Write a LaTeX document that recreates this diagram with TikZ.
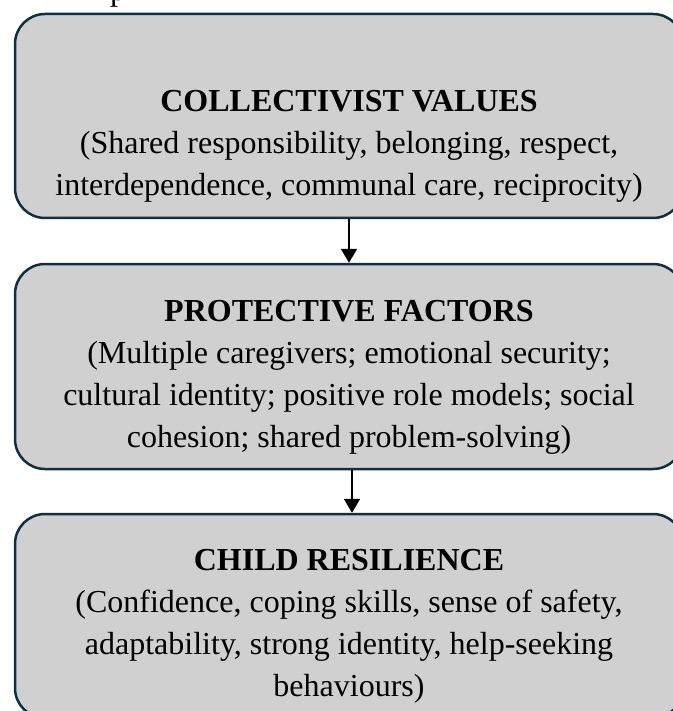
\documentclass[tikz,border=0pt]{standalone}
\usepackage{fontspec}
\setmainfont{Liberation Serif}
\usetikzlibrary{arrows.meta}
\definecolor{boxborder}{RGB}{14,48,68}
\definecolor{boxfill}{RGB}{208,208,208}
\tikzset{
  flowbox/.style={draw=boxborder, fill=boxfill, line width=2.5pt, rounded corners=30pt,
    minimum width=668pt, inner sep=0pt},
  txt/.style={anchor=base, inner sep=0pt, font=\fontsize{32}{40}\selectfont},
  ttl/.style={txt, font=\fontsize{32}{40}\selectfont\bfseries},
  flowarrow/.style={line width=2pt, -{Triangle[width=16pt,length=14pt]}}
}
\begin{document}
\begin{tikzpicture}[x=1pt,y=-1pt]
\useasboundingbox (0,0) rectangle (672,711);
\node[txt] (frag) at (118,1) {p};
\node[flowbox, minimum height=204pt] (b1) at (349,116) {};
\node[flowbox, minimum height=205pt] (b2) at (349,366.5) {};
\node[flowbox, minimum height=204pt] (b3) at (349,616) {};
\node[ttl] (t1) at (349,112) {COLLECTIVIST VALUES};
\node[txt] (t1a) at (349,154) {(Shared responsibility, belonging, respect,};
\node[txt] (t1b) at (349,196) {interdependence, communal care, reciprocity)};
\node[ttl] (t2) at (349,321) {PROTECTIVE FACTORS};
\node[txt] (t2a) at (349,363) {(Multiple caregivers; emotional security;};
\node[txt] (t2b) at (349,405) {cultural identity; positive role models; social};
\node[txt] (t2c) at (349,447) {cohesion; shared problem-solving)};
\node[ttl] (t3) at (349,570) {CHILD RESILIENCE};
\node[txt] (t3a) at (349,612) {(Confidence, coping skills, sense of safety,};
\node[txt] (t3b) at (349,654) {adaptability, strong identity, help-seeking};
\node[txt] (t3c) at (349,696) {behaviours)};
\draw[flowarrow] (b1.south) -- (b2.north);
\draw[flowarrow] ([xshift=3pt]b2.south) -- ([xshift=3pt]b3.north);
\end{tikzpicture}
\end{document}
